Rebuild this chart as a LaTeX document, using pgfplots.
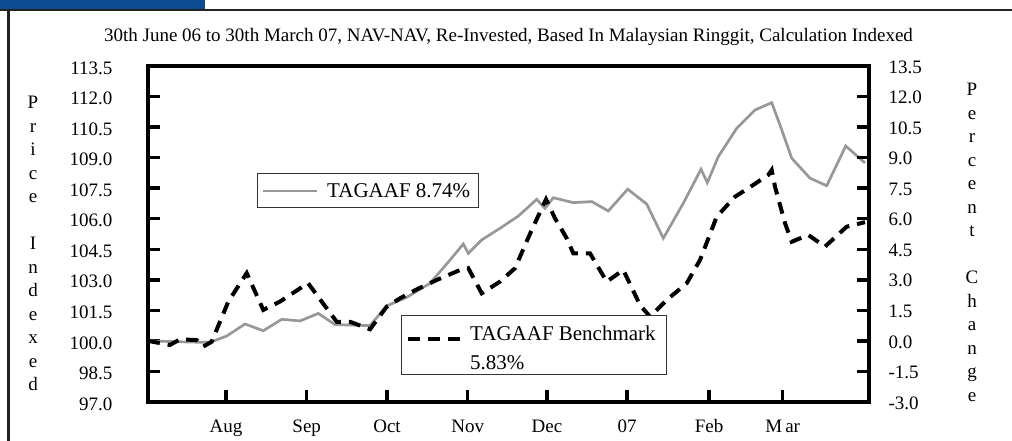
\documentclass[border=0pt]{standalone}
\usepackage{fontspec}
\setmainfont{Liberation Serif}
\usepackage{pgfplots}
\pgfplotsset{compat=1.18}
\definecolor{hdrblue}{RGB}{12,74,146}
\definecolor{lgrey}{RGB}{152,152,152}
\definecolor{framegrey}{RGB}{35,35,35}
\newcommand{\tf}{\fontsize{19bp}{22bp}\selectfont}
\newcommand{\lf}{\fontsize{21bp}{24bp}\selectfont}
\begin{document}
\begin{tikzpicture}[x=1bp,y=1bp]
\path[use as bounding box] (0,0) rectangle (1012,441);
% header and frame
\fill[hdrblue] (0,432) rectangle (205,441);
\draw[line width=2.5bp, color=framegrey] (0,431) -- (1012,431);
\draw[line width=2.5bp, color=framegrey] (8.5,0) -- (8.5,431);
% title
\node[anchor=base, inner sep=0, font=\tf] at (508.5,399.3)
  {30th June 06 to 30th March 07, NAV-NAV, Re-Invested, Based In Malaysian Ringgit, Calculation Indexed};

\begin{axis}[
  at={(148bp,39bp)}, anchor=south west, scale only axis,
  width=721bp, height=336bp,
  xmin=0, xmax=721, ymin=97, ymax=113.5,
  axis line style={line width=3.5bp, black},
  tick align=inside, major tick length=12bp,
  major tick style={line width=3.5bp, black},
  xtick pos=left, ytick pos=left,
  xtick={78,158.7,239,319.7,399,479,561,634.7},
  xticklabels={Aug,Sep,Oct,Nov,Dec,07,Feb,M\kern3bp ar},
  ytick={97,98.5,100,101.5,103,104.5,106,107.5,109,110.5,112,113.5},
  yticklabels={97.0,98.5,100.0,101.5,103.0,104.5,106.0,107.5,109.0,110.5,112.0,113.5},
  xticklabel style={font=\tf, anchor=base, yshift=-31bp},
  yticklabel style={font=\tf, anchor=east, xshift=-32bp, yshift=-2bp},
  clip=false,
]
\addplot[lgrey, line width=2.7bp] coordinates {
(0,100.00) (37,99.95) (55,99.93) (63.7,99.96) (78.7,100.24) (97,100.83)
(115.3,100.50) (133.7,101.06) (152,100.98) (170.3,101.35) (187,100.80)
(222,100.75) (238.7,101.72) (258.7,102.14) (282,102.83) (302,103.97)
(315.3,104.76) (320.3,104.30) (333.7,104.96) (352,105.53) (370.3,106.13)
(388.7,106.95) (397,106.51) (405.3,107.03) (425.3,106.79) (443.7,106.84)
(460.3,106.38) (479.7,107.45) (498.7,106.72) (515.3,105.04) (535.3,106.76)
(553,108.43) (559.3,107.77) (570.3,109.05) (588.7,110.44) (607,111.34)
(623.7,111.70) (632,110.60) (643.7,108.97) (662,107.99) (678.7,107.62)
(697.7,109.57) (717,108.74)
};
\addplot[black, line width=4bp, dash pattern=on 12bp off 8bp] coordinates {
(0,100.00) (22,99.80) (32,100.08) (48.7,100.04) (55.3,99.72) (63.7,99.96)
(80.3,101.93) (98.7,103.33) (115.3,101.52) (132,101.93) (160,102.84)
(173.7,101.93) (188.7,100.94) (202,100.94) (222,100.57) (238.7,101.68)
(252,102.09) (268.7,102.53) (288.7,102.99) (312,103.48) (320.3,103.57)
(333.7,102.34) (352,102.91) (367,103.57) (383.7,105.45) (398,106.95)
(407,106.02) (418.7,105.04) (425.3,104.30) (442,104.30) (458.7,102.91)
(475.3,103.48) (492,101.76) (502,101.19) (518.7,102.01) (538.7,102.83)
(552,103.97) (568.7,106.10) (587,107.08) (605.3,107.66) (620.3,108.15)
(623.7,108.39) (627,107.57) (637,105.78) (643.7,104.87) (660.3,105.20)
(677,104.63) (698.7,105.61) (717,105.83)
};
\end{axis}

\begin{axis}[
  at={(148bp,39bp)}, anchor=south west, scale only axis,
  width=721bp, height=336bp,
  xmin=0, xmax=721, ymin=-3, ymax=13.5,
  axis y line*=right, axis x line=none,
  axis line style={line width=3.5bp, black, -},
  tick align=inside, major tick length=12bp,
  major tick style={line width=3.5bp, black},
  ytick={-3,-1.5,0,1.5,3,4.5,6,7.5,9,10.5,12,13.5},
  yticklabels={-3.0,-1.5,0.0,1.5,3.0,4.5,6.0,7.5,9.0,10.5,12.0,13.5},
  yticklabel style={font=\tf, anchor=west, xshift=16bp, yshift=-1bp},
]
\end{axis}

% legends
\draw[line width=1bp, draw=black!80, fill=white] (257,233) rectangle (478,267);
\draw[lgrey, line width=2.7bp] (263,250) -- (317,250);
\node[anchor=base west, inner sep=0, font=\lf] at (327,243.3) {TAGAAF 8.74\%};

\draw[line width=1bp, draw=black!80, fill=white] (401,66) rectangle (666,125);
\draw[black, line width=4bp, dash pattern=on 12bp off 8bp] (408,101.7) -- (462,101.7);
\node[anchor=base west, inner sep=0, font=\lf] at (470,100.3) {TAGAAF Benchmark};
\node[anchor=base west, inner sep=0, font=\lf] at (470,71) {5.83\%};

% stacked axis titles
\foreach \l [count=\i from 0] in {P,r,i,c,e,{},I,n,d,e,x,e,d}
  \node[anchor=base, inner sep=0, font=\tf] at (33,{332-23.5*\i}) {\l};
\foreach \l [count=\i from 0] in {P,e,r,c,e,n,t,{},C,h,a,n,g,e}
  \node[anchor=base, inner sep=0, font=\tf] at (972,{345-23.5*\i}) {\l};
\end{tikzpicture}
\end{document}
